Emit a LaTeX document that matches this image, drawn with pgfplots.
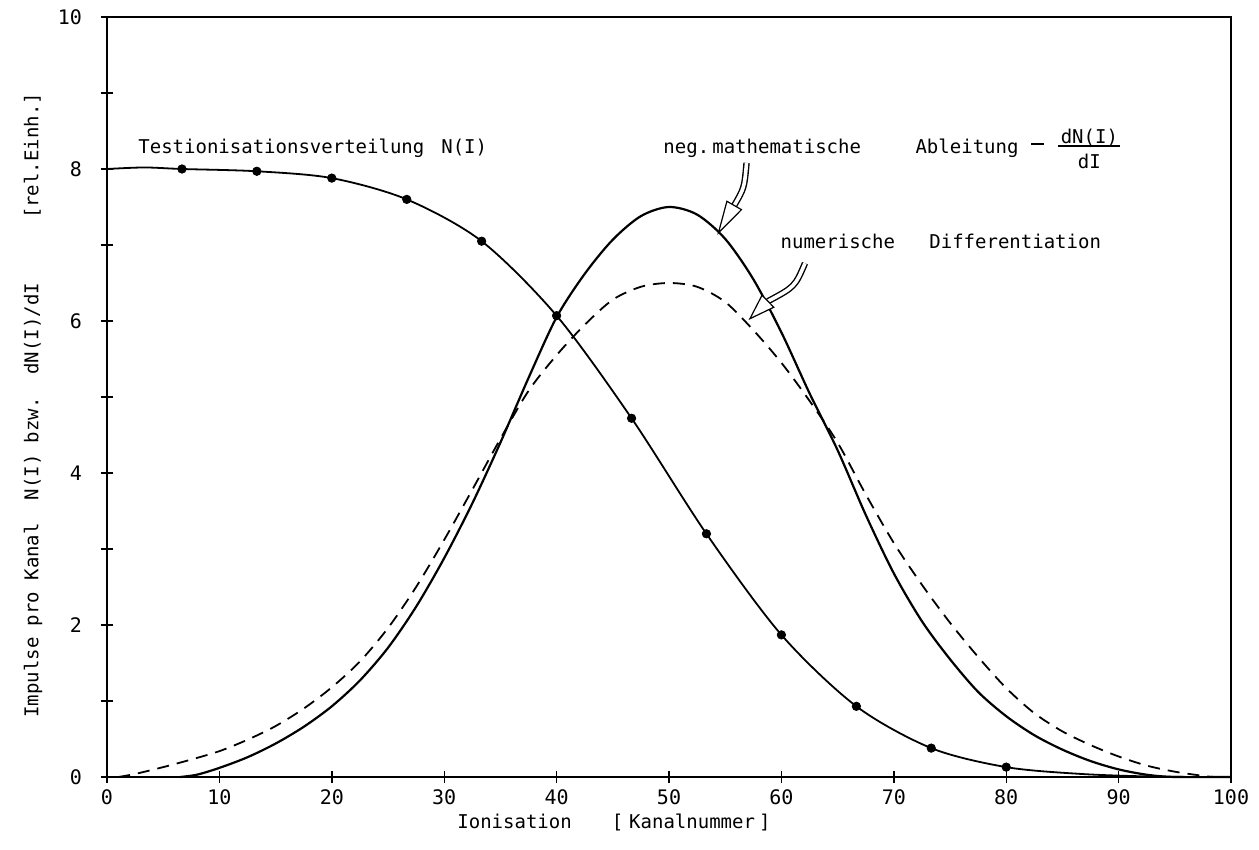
\documentclass[border=0pt]{standalone}
\usepackage{pgfplots}
\pgfplotsset{compat=1.18}
\usepackage{pgfplotstable}
\usepackage{fontspec}
\setmainfont{DejaVu Sans Mono}
\usetikzlibrary{calc}

% Testionisationsverteilung N(I): Stuetzstellen
\pgfplotstableread{
x y
6.67 8.00
13.33 7.97
20.00 7.88
26.67 7.60
33.33 7.05
40.00 6.07
46.67 4.72
53.33 3.20
60.00 1.87
66.67 0.93
73.33 0.38
80.00 0.13
}\Npunkte

% Verlauf von N(I) ueber den ganzen Bereich
\pgfplotstableread{
x y
0.00 8.00
3.33 8.02
6.67 8.00
13.33 7.97
20.00 7.88
26.67 7.60
33.33 7.05
40.00 6.07
46.67 4.72
53.33 3.20
60.00 1.87
66.67 0.93
73.33 0.38
80.00 0.13
86.67 0.04
93.33 0.005
100.00 0.00
}\Nkurve

% neg. mathematische Ableitung -dN(I)/dI
\pgfplotstableread{
x y
6.5 0
8 0.03
10 0.12
12.5 0.26
15 0.44
17.5 0.66
20 0.93
22.5 1.27
25 1.70
27.5 2.24
30 2.88
32.5 3.60
35 4.40
37.5 5.25
40 6.05
42.5 6.62
45 7.07
47.5 7.38
50 7.50
52.5 7.40
55 7.08
57.5 6.55
60 5.85
62.5 5.05
65 4.30
67.5 3.45
70 2.68
72.5 2.05
75 1.55
77.5 1.12
80 0.80
82.5 0.55
85 0.36
87.5 0.21
90 0.10
92.5 0.03
95 0
100 0
}\Ableitung

% numerische Differentiation
\pgfplotstableread{
x y
1 0
2.5 0.04
5 0.13
7.5 0.23
10 0.34
12.5 0.49
15 0.67
17.5 0.90
20 1.18
22.5 1.52
25 1.96
27.5 2.50
30 3.12
32.5 3.78
35 4.45
37.5 5.08
40 5.55
42.5 5.95
45 6.28
47.5 6.45
50 6.50
52.5 6.45
55 6.25
57.5 5.88
60 5.45
62.5 4.95
65 4.40
67.5 3.72
70 3.08
72.5 2.53
75 2.03
77.5 1.58
80 1.17
82.5 0.84
85 0.60
87.5 0.42
90 0.27
92.5 0.15
95 0.07
97.5 0.015
98.5 0
}\Numerisch

% hohler Pfeil: Start, Kontrollpunkt, Pfeilfuss, Spitze
\newcommand{\hohlpfeil}[4]{%
  \draw[black, line width=3.2pt] (#1) .. controls (#2) .. (#3);
  \draw[white, line width=1.8pt] (#1) .. controls (#2) .. (#3);
  \draw[black, line width=0.6pt, fill=white, line join=miter]
    ($(#3)!4.2pt!90:(#4)$) -- (#4) -- ($(#3)!4.2pt!-90:(#4)$) -- cycle;
}

\begin{document}
\begin{tikzpicture}[
  txt/.style={inner sep=0pt, anchor=base west, font=\fontsize{9.5}{11}\selectfont},
]
\begin{axis}[
  scale only axis,
  width=562pt, height=380pt,
  xmin=0, xmax=100, ymin=0, ymax=10,
  xtick={0,10,...,100},
  ytick={0,2,...,10},
  minor ytick={1,3,...,9},
  xtick pos=lower, ytick pos=left,
  tick align=center,
  major tick length=6pt, minor tick length=6pt,
  axis line style={line width=0.8pt},
  tick style={line width=0.7pt, black},
  /pgf/number format/assume math mode=true,
  ticklabel style={font=\fontsize{10}{12}\selectfont},
  xticklabel style={yshift=0pt},
  yticklabel style={xshift=-6pt},
  clip=false,
]
\addplot[black, line width=0.9pt, smooth] table {\Nkurve};
\addplot[only marks, mark=*, mark size=2.1pt, black] table {\Npunkte};
\addplot[black, line width=1.1pt, smooth] table {\Ableitung};
\addplot[black, line width=0.9pt, smooth, dash pattern=on 6pt off 4pt] table {\Numerisch};

\coordinate (LL) at (rel axis cs:0,0);
\coordinate (UR) at (rel axis cs:1,1);

% Beschriftungen im Diagramm
\node[txt] at (axis cs:2.76,8.21) {Testionisationsverteilung\hspace{8.5pt}N(I)};
\node[txt] at (axis cs:49.47,8.21) {neg.\,mathematische};
\node[txt] at (axis cs:71.9,8.21) {Ableitung};
\node[inner sep=0pt] at (axis cs:82.8,8.33) {\rule{6.5pt}{0.7pt}};
\node[inner sep=0pt, anchor=base, font=\fontsize{9.5}{11}\selectfont] at (axis cs:87.4,8.34) {dN(I)};
\node[inner sep=0pt, anchor=base, font=\fontsize{9.5}{11}\selectfont] at (axis cs:87.4,8.01) {dI};
\draw[line width=0.7pt] (axis cs:84.6,8.30) -- (axis cs:90.1,8.30);
\node[txt] at (axis cs:59.9,6.96) {numerische\ \ \ Differentiation};

% Achsenbeschriftungen
\node[rotate=90, anchor=center, inner sep=0pt, font=\fontsize{9.5}{11}\selectfont] at (axis cs:-6.58,4.89)
  {Impulse pro Kanal\ \ N(I) bzw.\ \ dN(I)/dI\hspace{32pt}[rel.Einh.]};
\node[anchor=center, inner sep=0pt, font=\fontsize{9.5}{11}\selectfont] at (axis cs:45.1,-0.6)
  {Ionisation\hspace{20pt}[\hspace{3pt}Kanalnummer\hspace{2pt}]};

% Pfeilpunkte
\coordinate (a1S) at (axis cs:56.9,8.08);
\coordinate (a1C) at (axis cs:56.7,7.75);
\coordinate (a1B) at (axis cs:55.8,7.52);
\coordinate (a1T) at (axis cs:54.4,7.16);
\coordinate (a2S) at (axis cs:62.1,6.76);
\coordinate (a2C) at (axis cs:61.2,6.45);
\coordinate (a2B) at (axis cs:58.8,6.26);
\coordinate (a2T) at (axis cs:57.2,6.03);
\end{axis}

\hohlpfeil{a1S}{a1C}{a1B}{a1T}
\hohlpfeil{a2S}{a2C}{a2B}{a2T}

\pgfresetboundingbox
\path[use as bounding box] ([shift={(-53.5pt,-36.5pt)}]LL) rectangle ([shift={(14pt,8.5pt)}]UR);
\end{tikzpicture}
\end{document}
